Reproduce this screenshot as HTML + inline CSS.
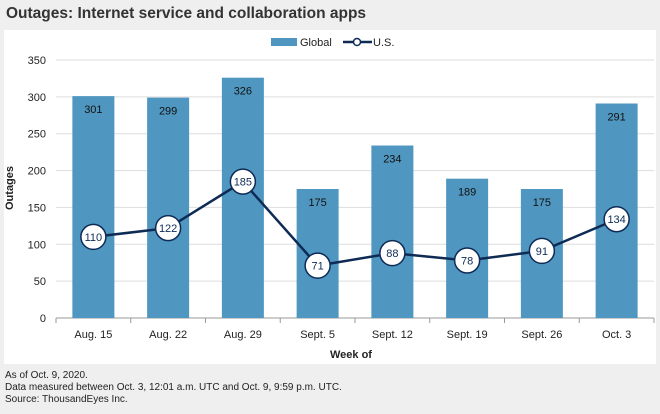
<!DOCTYPE html>
<html><head><meta charset="utf-8"><style>
body{margin:0;width:660px;height:414px;background:#efefef;font-family:"Liberation Sans",sans-serif;overflow:hidden;position:relative}
#title{position:absolute;left:6px;top:5px;font-size:15.5px;font-weight:bold;color:#333}
#panel{position:absolute;left:4px;top:30px;width:652px;height:334px;background:#fff}
#foot{position:absolute;left:5px;top:370px;font-size:10px;line-height:12px;color:#222}
svg{position:absolute;left:0;top:0}
</style></head><body>
<div id="title">Outages: Internet service and collaboration apps</div>
<div id="panel"></div>
<svg id="chart" width="660" height="414"></svg>
<div id="foot">As of Oct. 9, 2020.<br>Data measured between Oct. 3, 12:01 a.m. UTC and Oct. 9, 9:59 p.m. UTC.<br>Source: ThousandEyes Inc.</div>
<script>
const categories=["Aug. 15","Aug. 22","Aug. 29","Sept. 5","Sept. 12","Sept. 19","Sept. 26","Oct. 3"];
const globalVals=[301,299,326,175,234,189,175,291];
const usVals=[110,122,185,71,88,78,91,134];
const yTicks=[0,50,100,150,200,250,300,350];
const NS="http://www.w3.org/2000/svg";
const svg=document.getElementById('chart');
const L=56,R=654,Y0=318,Y1=60,YMAX=350;
const bw=(R-L)/categories.length;
const x=i=>L+bw*(i+0.5);
const y=v=>Y0-(v/YMAX)*(Y0-Y1);
function mk(t,a,p){const e=document.createElementNS(NS,t);for(const k in a)e.setAttribute(k,a[k]);(p||svg).appendChild(e);return e;}
yTicks.forEach(v=>{
 const g=mk('line',{x1:L,x2:R,y1:y(v),y2:y(v),stroke:v===0?'#999':'#ddd','stroke-width':1});
 
 
 const t=mk('text',{x:L-10,y:y(v)+4,'text-anchor':'end','font-size':11,fill:'#222'});
 t.textContent=v;
 
 
});
for(let i=0;i<=categories.length;i++){
 const tk=mk('line',{x1:L+bw*i,x2:L+bw*i,y1:Y0,y2:Y0+5,stroke:'#999'});
 
 
}
categories.forEach((c,i)=>{
 const r=mk('rect',{x:x(i)-21,y:y(globalVals[i]),width:42,height:Y0-y(globalVals[i]),fill:'#4f97c0'});
 
 
 const lv=mk('text',{x:x(i),y:y(globalVals[i])+17,'text-anchor':'middle','font-size':11,fill:'#111'});
 lv.textContent=globalVals[i];
 
 
 const t=mk('text',{x:x(i),y:Y0+20,'text-anchor':'middle','font-size':11,fill:'#222'});
 t.textContent=c;
 
 
});
const line=mk('polyline',{points:usVals.map((v,i)=>x(i)+','+y(v)).join(' '),fill:'none',stroke:'#0e2b56','stroke-width':2.5});


usVals.forEach((v,i)=>{
 const c=mk('circle',{cx:x(i),cy:y(v),r:12.5,fill:'#fff',stroke:'#0e2b56','stroke-width':1.5});
 
 
 const t=mk('text',{x:x(i),y:y(v)+4,'text-anchor':'middle','font-size':11,fill:'#0e2b56'});
 t.textContent=v;
 
 
});
const yt=mk('text',{x:0,y:0,transform:'translate(13,188) rotate(-90)','text-anchor':'middle','font-size':11,'font-weight':'bold',fill:'#222'});
yt.textContent='Outages';


const xt=mk('text',{x:351,y:358,'text-anchor':'middle','font-size':11,'font-weight':'bold',fill:'#222'});
xt.textContent='Week of';


const lg=mk('rect',{x:271,y:38,width:26,height:8,fill:'#4f97c0'});


const lgt=mk('text',{x:300,y:46,'font-size':11,fill:'#222'});
lgt.textContent='Global';


const ll=mk('line',{x1:343,x2:372,y1:42,y2:42,stroke:'#0e2b56','stroke-width':2.5});


const lc=mk('circle',{cx:357,cy:42,r:3.5,fill:'#fff',stroke:'#0e2b56','stroke-width':1.5});


const lut=mk('text',{x:373,y:46,'font-size':11,fill:'#222'});
lut.textContent='U.S.';


</script>
</body></html>
